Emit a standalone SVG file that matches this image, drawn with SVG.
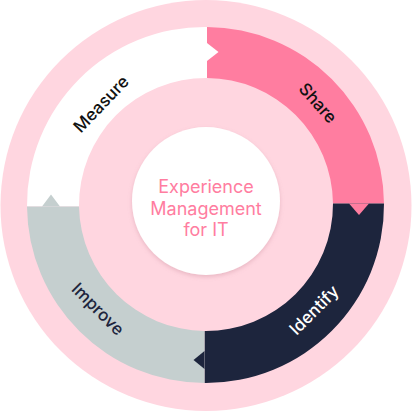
<svg xmlns="http://www.w3.org/2000/svg" width="412" height="411" viewBox="0 0 412 411">
  <defs>
    <style>
      .ring { fill: #FFD6E0; }
      .label { font-family: Inter, "Open Sans", "Liberation Sans", sans-serif; font-size: 17px; font-weight: 500; text-anchor: middle; dominant-baseline: central; }
      .center-text { font-family: Inter, "Open Sans", "Liberation Sans", sans-serif; font-size: 18px; font-weight: 400; fill: #FF7DA0; text-anchor: middle; }
    </style>
    <filter id="soft" x="-20%" y="-20%" width="140%" height="140%">
      <feDropShadow dx="0" dy="2" stdDeviation="2" flood-color="#C08090" flood-opacity="0.35"/>
    </filter>
  </defs>

  <g id="background">
    <circle class="ring" cx="206" cy="205.5" r="205.5"/>
  </g>

  <g id="measure">
    <path fill="#FFFFFF" d="M27,206.5 A178,178 0 0 1 207,27 L207,78 A127,127 0 0 0 79,206.5 Z"/>
    <text class="label" fill="#111111" transform="translate(101,104) rotate(-46)">Measure</text>
  </g>

  <g id="share">
    <path fill="#FF7DA0" d="M207,27 A178,178 0 0 1 384,203.5 L333,203.5 A127,127 0 0 0 207,78 Z"/>
    <text class="label" fill="#111111" transform="translate(318,103) rotate(48)">Share</text>
  </g>

  <g id="identify">
    <path fill="#1D253D" d="M384,203.5 A178,178 0 0 1 204.5,383 L204.5,331 A127,127 0 0 0 333,203.5 Z"/>
    <text class="label" fill="#FFFFFF" transform="translate(314,310) rotate(-45)">Identify</text>
  </g>

  <g id="improve">
    <path fill="#C5CFCF" d="M204.5,383 A178,178 0 0 1 27,206.5 L79,206.5 A127,127 0 0 0 204.5,331 Z"/>
    <text class="label" fill="#1D253D" transform="translate(98,309) rotate(45)">Improve</text>
  </g>

  <g id="connectors">
    <polygon fill="#FFFFFF" points="207,43 218.5,52 207,61"/>
    <polygon fill="#FF7DA0" points="349,203.5 359,215 369,203.5"/>
    <polygon fill="#1D253D" points="204.5,351 193.5,360 204.5,369"/>
    <polygon fill="#C5CFCF" points="42,206.5 51,194.5 60,206.5"/>
  </g>

  <g id="center">
    <circle cx="206" cy="201" r="74" fill="#FFFFFF" filter="url(#soft)"/>
    <text class="center-text" x="206" y="193">Experience</text>
    <text class="center-text" x="206" y="215">Management</text>
    <text class="center-text" x="206" y="236">for IT</text>
  </g>
</svg>
